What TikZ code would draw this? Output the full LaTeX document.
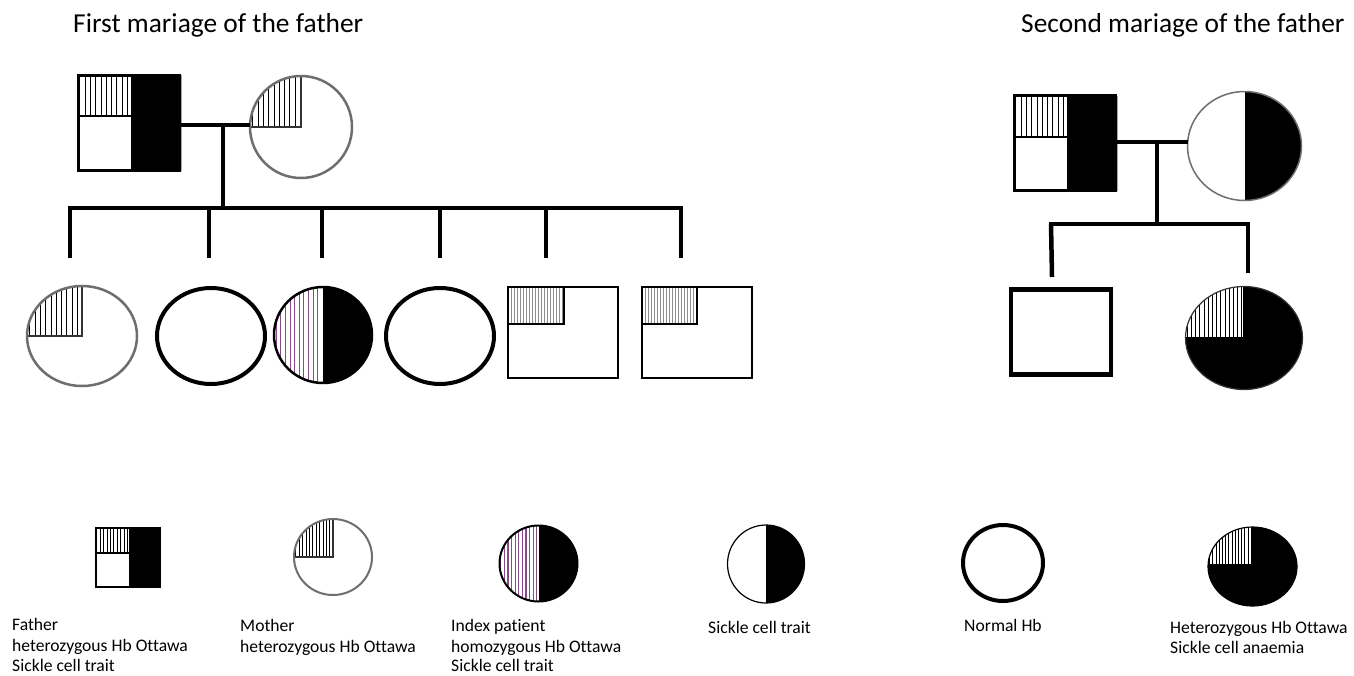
\documentclass[tikz,border=0pt]{standalone}
\usepackage{fontspec}
\setmainfont[Ligatures=NoCommon]{Carlito}
\usetikzlibrary{shapes.geometric}
\definecolor{hpurple}{HTML}{8A4A8A}
\definecolor{outgray}{HTML}{6E6E6E}
\tikzset{
  kin/.style={line width=4.5pt, black},
  hatchln/.style={line width=0.7pt, black},
  purpleln/.style={line width=1.1pt, hpurple},
  grayln/.style={line width=1pt, black!45},
  edgeln/.style={line width=1.2pt, black},
  sym/.style={inner sep=0pt, outer sep=0pt},
  ttl/.style={anchor=base west, inner sep=0pt, font=\fontsize{27.4}{32}\selectfont},
  lgd/.style={anchor=base west, inner sep=0pt, font=\fontsize{17.6}{21}\selectfont},
}
% vertical hatching: [style] x0 x1 y0 y1 spacing
\newcommand\hatchbox[6][hatchln]{%
  \pgfmathsetmacro\hxa{#2+#6/2}%
  \pgfmathsetmacro\hxb{#2+#6*1.5}%
  \foreach \hx in {\hxa,\hxb,...,#3}{\draw[#1] (\hx,#4) -- (\hx,#5);}%
}
\begin{document}
\begin{tikzpicture}[x=1pt,y=-1pt]
\useasboundingbox (0,0) rectangle (1354,675);
\fill[white] (0,0) rectangle (1354,675);

% ---------- titles
\node[ttl] (t1) at (73,32) {First mariage of the father};
\node[ttl] (t2) at (1021,32) {Second mariage of the father};

% ---------- first marriage: father
\fill (131,74) rectangle (181,172);
\draw[black!35, line width=2pt] (181,75) -- (181,171);
\hatchbox{77}{131}{74}{116}{5.3}
\draw[edgeln] (77,116) -- (131,116);
\node[sym, rectangle, draw, line width=3pt, minimum width=101, minimum height=95] (f1) at (129,123) {};

% mother
\begin{scope}
  \clip (301,127) ellipse [x radius=51, y radius=51];
  \hatchbox{250}{301}{76}{127}{5.3}
  \draw[edgeln, black!80] (250,127) -- (301,127) -- (301,76);
\end{scope}
\node[sym, ellipse, draw=outgray, line width=2.5pt, minimum width=102, minimum height=102] (mo1) at (301,127) {};

% lines of descent
\coordinate (m1) at (223,125);
\coordinate (s1) at (223,208);
\draw[kin] (f1.east |- m1) -- (mo1.west |- m1);
\draw[kin] (m1) -- (s1);
\coordinate (sl1) at (68,208);
\coordinate (sr1) at (683,208);
\draw[kin] (sl1) -- (sr1);
\foreach \n/\dx in {1/70,2/209,3/322,4/440,5/546,6/681}{
  \coordinate (dt\n) at (\dx,208);
  \coordinate (db\n) at (\dx,258);
  \draw[kin] (dt\n) -- (db\n);
}

% children
% c1
\begin{scope}
  \clip (82,336) ellipse [x radius=55, y radius=50];
  \hatchbox{27}{82}{286}{336}{5.3}
  \draw[edgeln, black!80] (27,336) -- (82,336) -- (82,286);
\end{scope}
\node[sym, ellipse, draw=outgray, line width=2.5pt, minimum width=110, minimum height=100] (c1) at (82,336) {};
% c2
\node[sym, ellipse, draw, line width=4pt, minimum width=108, minimum height=96] (c2) at (211,336) {};
% c3
\begin{scope}
  \clip (323,335) ellipse [x radius=49, y radius=48];
  \fill (323,280) rectangle (380,390);
  \hatchbox[purpleln]{274}{322}{286}{384}{4.6}
\end{scope}
\node[sym, ellipse, draw, line width=2.5pt, minimum width=98, minimum height=96] (c3) at (323,335) {};
% c4
\node[sym, ellipse, draw, line width=4pt, minimum width=108, minimum height=96] (c4) at (440,336) {};
% c5
\hatchbox[grayln]{507}{564}{286}{324}{3}
\draw[edgeln] (507,324) -- (564,324) -- (564,286);
\node[sym, rectangle, draw, line width=2pt, minimum width=110, minimum height=91] (c5) at (562.5,332) {};
% c6
\hatchbox[grayln]{641}{697}{286}{324}{3}
\draw[edgeln] (641,324) -- (697,324) -- (697,286);
\node[sym, rectangle, draw, line width=2pt, minimum width=110, minimum height=91] (c6) at (696.5,332) {};

% ---------- second marriage
\fill (1067,95) rectangle (1117,192);
\draw[black!35, line width=2pt] (1117,96) -- (1117,191);
\hatchbox{1013}{1067}{95}{137}{5.3}
\draw[edgeln] (1013,137) -- (1067,137);
\node[sym, rectangle, draw, line width=3pt, minimum width=101, minimum height=95] (f2) at (1065,143) {};

\begin{scope}
  \clip (1244.5,146) ellipse [x radius=57, y radius=54.5];
  \fill (1244.5,85) rectangle (1310,210);
\end{scope}
\node[sym, ellipse, draw=outgray, line width=1.5pt, minimum width=114, minimum height=109] (w2) at (1244.5,146) {};

\coordinate (m2) at (1157,142);
\coordinate (s2) at (1157,224);
\draw[kin] (f2.east |- m2) -- (w2.west |- m2);
\draw[kin] (m2) -- (s2);
\coordinate (sl2) at (1049,224);
\coordinate (sr2) at (1250,224);
\draw[kin] (sl2) -- (sr2);
\coordinate (dt7) at (1051,224);
\coordinate (db7) at (1052,277);
\coordinate (dt8) at (1248,224);
\coordinate (db8) at (1248,273);
\draw[kin] (dt7) -- (db7);
\draw[kin] (dt8) -- (db8);

\node[sym, rectangle, draw, line width=4.5pt, minimum width=100, minimum height=85] (c7) at (1061,332) {};

\begin{scope}
  \clip (1244,338) ellipse [x radius=58.5, y radius=51.5];
  \fill (1180,280) rectangle (1310,400);
  \fill[white] (1185,286) rectangle (1244,338);
  \hatchbox{1185}{1244}{286}{338}{4.2}
  \draw[edgeln] (1185,338) -- (1244,338) -- (1244,286);
\end{scope}
\node[sym, ellipse, draw=black!80, line width=1.2pt, minimum width=117, minimum height=103] (c8) at (1244,338) {};

% ---------- legend
% father
\fill (129,527) rectangle (161,588);
\hatchbox{95}{129}{527}{553}{3.4}
\draw[edgeln] (95,553) -- (129,553);
\node[sym, rectangle, draw, line width=2.5pt, minimum width=64, minimum height=59] (lf) at (128,557.5) {};
\node[lgd] (lf1) at (12,630) {Father};
\node[lgd] (lf2) at (12,651) {heterozygous Hb Ottawa};
\node[lgd] (lf3) at (12,671) {Sickle cell trait};

% mother
\begin{scope}
  \clip (333,557) ellipse [x radius=39, y radius=38];
  \hatchbox{294}{333}{519}{557}{3.4}
  \draw[edgeln, black!80] (294,557) -- (333,557) -- (333,519);
\end{scope}
\node[sym, ellipse, draw=outgray, line width=2pt, minimum width=78, minimum height=76] (lm) at (333,557) {};
\node[lgd] (lm1) at (240,631) {Mother};
\node[lgd] (lm2) at (240,652) {heterozygous Hb Ottawa};

% index patient
\begin{scope}
  \clip (538.5,563.5) ellipse [x radius=39, y radius=38];
  \fill (538.5,520) rectangle (580,605);
  \hatchbox[purpleln]{499}{538}{525}{602}{3.6}
\end{scope}
\node[sym, ellipse, draw, line width=2pt, minimum width=78, minimum height=76] (li) at (538.5,563.5) {};
\node[lgd] (li1) at (451,631) {Index patient};
\node[lgd] (li2) at (451,652) {homozygous Hb Ottawa};
\node[lgd] (li3) at (451,671) {Sickle cell trait};

% sickle cell trait
\begin{scope}
  \clip (766,564) ellipse [x radius=38.5, y radius=39];
  \fill (766,520) rectangle (810,610);
\end{scope}
\node[sym, ellipse, draw, line width=1.2pt, minimum width=77, minimum height=78] (ls) at (766,564) {};
\node[lgd] (ls1) at (708,633) {Sickle cell trait};

% normal Hb
\node[sym, ellipse, draw, line width=4pt, minimum width=80, minimum height=76] (ln) at (1003,563) {};
\node[lgd] (ln1) at (964,631) {Normal Hb};

% heterozygous Hb Ottawa / sickle cell anaemia
\begin{scope}
  \clip (1252.5,566.5) ellipse [x radius=44.5, y radius=39.5];
  \fill (1200,520) rectangle (1300,612);
  \fill[white] (1208,527) rectangle (1252.5,565);
  \hatchbox{1208}{1252}{527}{565}{3.2}
  \draw[edgeln] (1208,565) -- (1252.5,565) -- (1252.5,527);
\end{scope}
\node[sym, ellipse, draw, line width=1.2pt, minimum width=89, minimum height=79] (lh) at (1252.5,566.5) {};
\node[lgd] (lh1) at (1170,633) {Heterozygous Hb Ottawa};
\node[lgd] (lh2) at (1170,653) {Sickle cell anaemia};
\end{tikzpicture}
\end{document}
